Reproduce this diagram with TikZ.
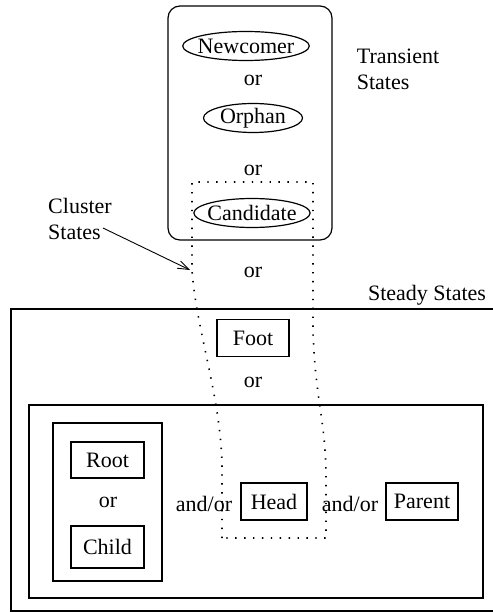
\documentclass[tikz,border=0pt]{standalone}
\usepackage{fontspec}
\setmainfont{Liberation Serif}
\newfontfamily\figfont{Liberation Serif}
\usetikzlibrary{arrows.meta, shapes.geometric}

\begin{document}
\begin{tikzpicture}[x=1pt, y=-1pt, every node/.style={font=\figfont\fontsize{22}{26}\selectfont},
    frame/.style={line width=1.2pt, black},
    stateoval/.style={ellipse, draw, line width=1.2pt, inner xsep=-3.5pt, inner ysep=0pt, minimum height=29pt},
    statebox/.style={rectangle, draw, line width=1.2pt, inner sep=0pt, minimum width=72pt, minimum height=37pt},
    ortext/.style={inner sep=0pt},
    grouptext/.style={inner sep=0pt, align=left},
    clusterline/.style={line width=1.6pt, dash pattern=on 1.4pt off 7.5pt}
  ]
  \useasboundingbox (0,0) rectangle (492,612);

  % transiente Zustaende
  \draw[frame, rounded corners=12pt] (168,6) rectangle (332,240);
  \node[stateoval] (newcomer) at (246,46) {Newcomer};
  \node[ortext] (or1) at (253,80) {or};
  \node[stateoval, minimum width=99pt] (orphan) at (253,118) {Orphan};
  \node[ortext] (or2) at (253,170) {or};
  \node[stateoval] (candidate) at (252,213) {Candidate};
  \node[grouptext] (transient) at (398,69) {Transient\\States};

  \node[ortext] (or3) at (253,272) {or};

  % stabile Zustaende
  \draw[frame] (11,309) rectangle (500,611);
  \node[inner sep=0pt] (steady) at (427,295) {Steady States};
  \node[statebox] (foot) at (253,338) {Foot};
  \node[ortext] (or4) at (253,382) {or};

  \draw[frame] (29,405) rectangle (483,598);
  \draw[frame] (53,423) rectangle (162,581);
  \node[statebox, minimum width=73pt, minimum height=36pt] (root) at (107.5,460) {Root};
  \node[ortext] (or5) at (108,502) {or};
  \node[statebox, minimum width=73pt, minimum height=42pt] (child) at (107.5,547) {Child};
  \node[inner sep=0pt] (andor1) at (204,504) {and/or};
  \node[statebox, minimum width=66pt] (head) at (274,501.5) {Head};
  \node[inner sep=0pt] (andor2) at (350,504) {and/or};
  \node[statebox] (parent) at (422,501.5) {Parent};

  % Cluster-Zustaende (gepunktet)
  \draw[clusterline] (222,538) -- (222,470)
    .. controls (222,400) and (196,330) .. (192,270) -- (192,182)
    -- (313,182) -- (313,330)
    .. controls (315,400) and (326,420) .. (326,480) -- (326,538) -- cycle;
  \node[grouptext] (cluster) at (80,219) {Cluster\\States};
  \coordinate (clustertip) at (190,270);
  \draw[line width=0.9pt, -{Straight Barb[length=11pt, width=8pt]}]
    ([xshift=-9pt, yshift=-9pt]cluster.east) -- (clustertip);

\end{tikzpicture}
\end{document}
